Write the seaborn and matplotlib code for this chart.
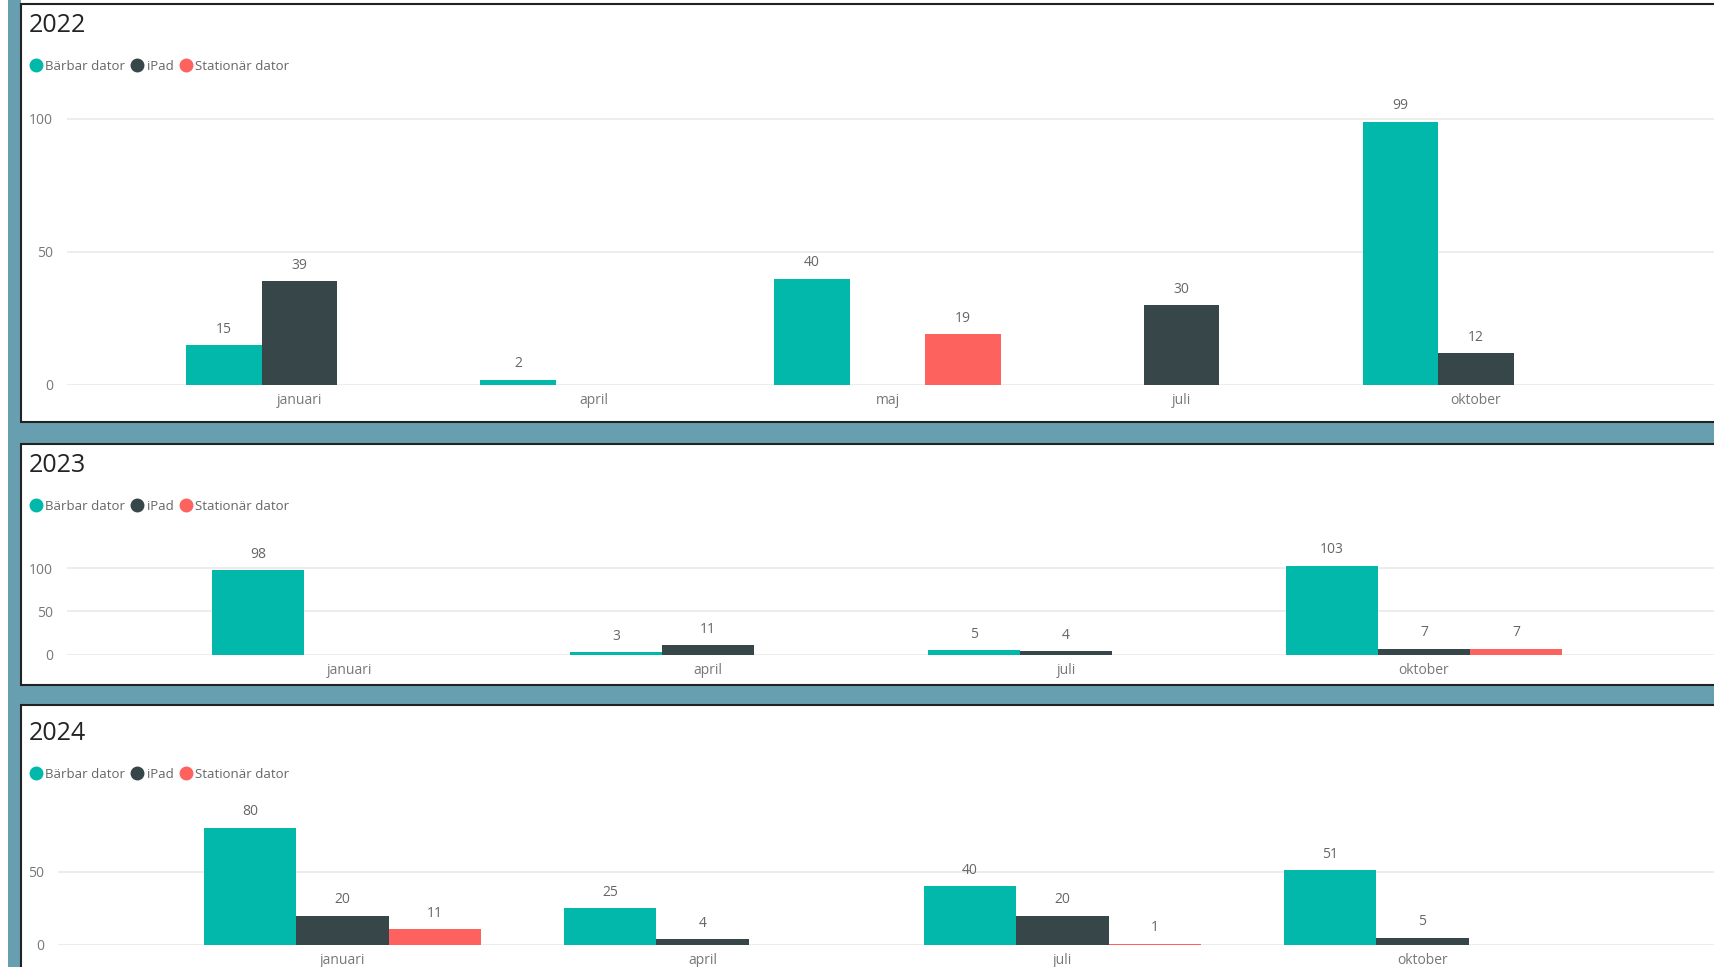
import numpy as np
import pandas as pd
import matplotlib
matplotlib.use("Agg")
import matplotlib.pyplot as plt
from matplotlib.patches import Rectangle
from matplotlib.lines import Line2D
import seaborn as sns

# Data (None = no bar)
types = ['Bärbar dator', 'iPad', 'Stationär dator']
colors = ['#01B8AA', '#374649', '#FD625E']

months_2022 = ['januari', 'april', 'maj', 'juli', 'oktober']
barbar_2022 = [15, 2, 40, None, 99]
ipad_2022 = [39, None, None, 30, 12]
stationar_2022 = [None, None, 19, None, None]

months_2023 = ['januari', 'april', 'juli', 'oktober']
barbar_2023 = [98, 3, 5, 103]
ipad_2023 = [None, 11, 4, 7]
stationar_2023 = [None, None, None, 7]

months_2024 = ['januari', 'april', 'juli', 'oktober']
barbar_2024 = [80, 25, 40, 51]
ipad_2024 = [20, 4, 20, 5]
stationar_2024 = [11, None, 1, None]

sns.set_theme(style="white")
plt.rcParams['font.family'] = ['Open Sans', 'DejaVu Sans']

W, H = 1714, 967
fig = plt.figure(figsize=(W / 100, H / 100), dpi=100)
fig.patch.set_facecolor('white')


def px_rect(x0, y0, x1, y1, **kw):
    # rectangle given in pixel coords (top-left origin)
    r = Rectangle((x0 / W, 1 - y1 / H), (x1 - x0) / W, (y1 - y0) / H,
                  transform=fig.transFigure, **kw)
    fig.add_artist(r)


# Teal background and white panels
px_rect(8, 0, W, H, facecolor='#679FB0', edgecolor='none', zorder=-20)
px_rect(21, 0, W, 4, facecolor='white', edgecolor='none', zorder=-19)
for y0, y1 in [(4, 422), (444, 685), (705, H + 5)]:
    px_rect(21, y0, W + 5, y1, facecolor='white', edgecolor='#222222',
            linewidth=1.5, zorder=-10)

panels = [
    ('2022', months_2022, [barbar_2022, ipad_2022, stationar_2022],
     67, 95, 385, 109, [0, 50, 100], 25, 66),
    ('2023', months_2023, [barbar_2023, ipad_2023, stationar_2023],
     67, 490, 654.7, 190.6, [0, 50, 100], 465, 506),
    ('2024', months_2024, [barbar_2024, ipad_2024, stationar_2024],
     58, 800, 945, 98.9, [0, 50], 733, 774),
]

for title, months, series, left, top, bottom, ymax, yticks, ty, ly in panels:
    rows = []
    for t, vals in zip(types, series):
        for m, v in zip(months, vals):
            if v is not None:
                rows.append({'month': m, 'typ': t, 'value': v})
    df = pd.DataFrame(rows)

    ax = fig.add_axes([left / W, 1 - bottom / H, (W - left) / W, (bottom - top) / H])
    ax.set_facecolor('none')
    sns.barplot(data=df, x='month', y='value', hue='typ', order=months,
                hue_order=types, palette=colors, width=0.77, linewidth=0,
                saturation=1, errorbar=None, legend=False, ax=ax)
    for c in ax.containers:
        ax.bar_label(c, fmt='%d', padding=6, fontsize=10, color='#666666')

    ax.set_xlim(-0.79, len(months) - 0.19)
    ax.set_ylim(0, ymax)
    ax.set_yticks(yticks)
    ax.yaxis.grid(True, color='#EAEAEA', linewidth=1.2)
    ax.set_axisbelow(True)
    ax.tick_params(axis='y', length=0, pad=10, labelsize=10, labelcolor='#777777')
    ax.tick_params(axis='x', length=0, pad=6, labelsize=10, labelcolor='#777777')
    ax.set_xlabel('')
    ax.set_ylabel('')
    sns.despine(ax=ax, left=True, bottom=True)

    # Panel title and legend
    fig.text(29 / W, 1 - ty / H, title, fontsize=18, color='#252423',
             va='center', ha='left')
    handles = [Line2D([], [], marker='o', linestyle='none', markersize=9,
                      markerfacecolor=c, markeredgecolor=c) for c in colors]
    fig.legend(handles, types, loc='center left',
               bbox_to_anchor=(29 / W, 1 - ly / H), ncol=3, frameon=False,
               handlelength=1.0, handletextpad=0.2, columnspacing=0.45,
               borderpad=0, borderaxespad=0,
               prop={'size': 9.5}, labelcolor='#666666')

fig.savefig('out.png', dpi=100)
